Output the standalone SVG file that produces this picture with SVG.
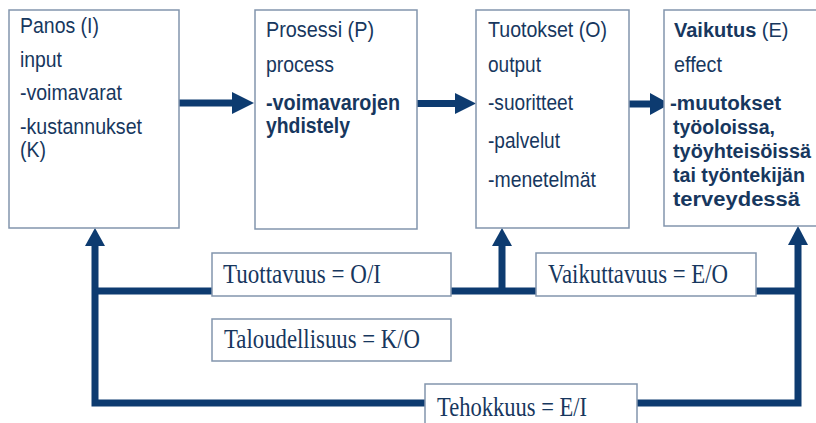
<svg xmlns="http://www.w3.org/2000/svg" width="816" height="423" viewBox="0 0 816 423">
<style>
.box{fill:#fff;stroke:#8295ad;stroke-width:1.5}
.t{font-family:"Liberation Sans",Arial,sans-serif;font-size:22.5px;fill:#17375e}
.b{font-weight:bold}
.e{font-size:20px}
.s{font-family:"Liberation Serif","Times New Roman",serif;font-size:28px;fill:#17375e}
.ln{stroke:#0d3b70;stroke-width:7;fill:none}
.hd{fill:#0d3b70}
</style>
<rect width="816" height="423" fill="#fff"/>
<g id="connectors">
<line class="ln" x1="179" y1="103" x2="236" y2="103"/>
<polygon class="hd" points="232,92 254,103 232,114"/>
<line class="ln" x1="417" y1="103.5" x2="458" y2="103.5"/>
<polygon class="hd" points="455,93 476,103.5 455,114"/>
<line class="ln" x1="629" y1="104" x2="652" y2="104"/>
<polygon class="hd" points="650,93 670,104 650,115"/>
<polyline class="ln" points="95,242 95,403 798,403 798,242"/>
<line class="ln" x1="95" y1="291" x2="798" y2="291"/>
<line class="ln" x1="502" y1="291" x2="502" y2="242"/>
<polygon class="hd" points="85,246 95,228 105,246"/>
<polygon class="hd" points="492,246 502,228 512,246"/>
<polygon class="hd" points="788,245 798,226 808,245"/>
</g>
<g id="panos">
<rect class="box" x="9" y="10" width="170" height="218"/>
<text class="t" x="20" y="33" textLength="79" lengthAdjust="spacingAndGlyphs">Panos (I)</text>
<text class="t" x="20" y="67" textLength="42" lengthAdjust="spacingAndGlyphs">input</text>
<text class="t" x="20" y="100" textLength="102" lengthAdjust="spacingAndGlyphs">-voimavarat</text>
<text class="t" x="20" y="134" textLength="122" lengthAdjust="spacingAndGlyphs">-kustannukset</text>
<text class="t" x="20" y="157" textLength="26" lengthAdjust="spacingAndGlyphs">(K)</text>
</g>
<g id="prosessi">
<rect class="box" x="255" y="10" width="162" height="219"/>
<text class="t" x="266" y="37" textLength="108" lengthAdjust="spacingAndGlyphs">Prosessi (P)</text>
<text class="t" x="266" y="72" textLength="68" lengthAdjust="spacingAndGlyphs">process</text>
<text class="t b" x="266" y="110" textLength="134" lengthAdjust="spacingAndGlyphs">-voimavarojen</text>
<text class="t b" x="266" y="133" textLength="84" lengthAdjust="spacingAndGlyphs">yhdistely</text>
</g>
<g id="tuotokset">
<rect class="box" x="476" y="10" width="153" height="218"/>
<text class="t" x="488" y="37" textLength="119" lengthAdjust="spacingAndGlyphs">Tuotokset (O)</text>
<text class="t" x="488" y="72" textLength="53" lengthAdjust="spacingAndGlyphs">output</text>
<text class="t" x="488" y="110" textLength="85" lengthAdjust="spacingAndGlyphs">-suoritteet</text>
<text class="t" x="488" y="148" textLength="72" lengthAdjust="spacingAndGlyphs">-palvelut</text>
<text class="t" x="488" y="187" textLength="108" lengthAdjust="spacingAndGlyphs">-menetelmät</text>
</g>
<g id="vaikutus">
<rect class="box" x="664" y="10" width="160" height="216"/>
<text class="t e" x="674" y="37"><tspan class="b">Vaikutus</tspan> (E)</text>
<text class="t" x="674" y="72" textLength="48" lengthAdjust="spacingAndGlyphs">effect</text>
<text class="t b e" x="670" y="110" textLength="111" lengthAdjust="spacingAndGlyphs">-muutokset</text>
<text class="t b e" x="673" y="134" textLength="102" lengthAdjust="spacingAndGlyphs">työoloissa,</text>
<text class="t b e" x="673" y="158" textLength="138" lengthAdjust="spacingAndGlyphs">työyhteisöissä</text>
<text class="t b e" x="673" y="182" textLength="132" lengthAdjust="spacingAndGlyphs">tai työntekijän</text>
<text class="t b e" x="673" y="206" textLength="127" lengthAdjust="spacingAndGlyphs">terveydessä</text>
</g>
<g id="tuottavuus">
<rect class="box" x="212" y="253" width="239" height="43"/>
<text class="s" x="223" y="283" textLength="158" lengthAdjust="spacingAndGlyphs">Tuottavuus = O/I</text>
</g>
<g id="vaikuttavuus">
<rect class="box" x="536" y="253" width="220" height="43"/>
<text class="s" x="548" y="283" textLength="180" lengthAdjust="spacingAndGlyphs">Vaikuttavuus = E/O</text>
</g>
<g id="taloudellisuus">
<rect class="box" x="212" y="319" width="239" height="42"/>
<text class="s" x="224" y="348" textLength="196" lengthAdjust="spacingAndGlyphs">Taloudellisuus = K/O</text>
</g>
<g id="tehokkuus">
<rect class="box" x="425" y="384" width="212" height="50"/>
<text class="s" x="437" y="416" textLength="150" lengthAdjust="spacingAndGlyphs">Tehokkuus = E/I</text>
</g>
</svg>
